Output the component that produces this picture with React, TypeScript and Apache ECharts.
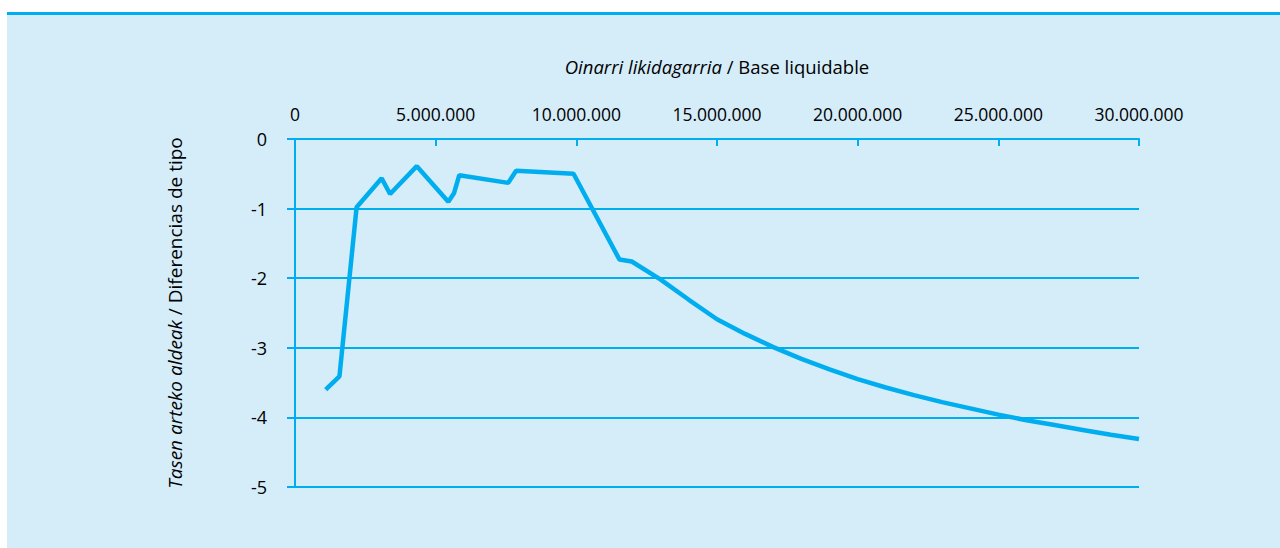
import React, { useEffect, useRef } from "react";
import * as echarts from "echarts";

const baseLiquidable = [
  1090000, 1580000, 2190000, 3080000, 3380000, 4330000, 5450000, 5650000, 5840000,
  7580000, 7860000, 9900000, 11530000, 11970000, 13000000, 14000000, 15000000,
  16000000, 17000000, 18000000, 19000000, 20000000, 21000000, 22000000, 23000000,
  24000000, 25000000, 26000000, 27000000, 28000000, 29000000, 30000000,
];
const diferencias = [
  -3.6, -3.41, -0.98, -0.565, -0.79, -0.39, -0.9, -0.78, -0.52,
  -0.63, -0.455, -0.5, -1.73, -1.76, -2.02, -2.31, -2.59,
  -2.8, -2.99, -3.16, -3.31, -3.45, -3.57, -3.68, -3.78,
  -3.87, -3.96, -4.04, -4.11, -4.18, -4.25, -4.31,
];
const xTicks = { min: 0, max: 30000000, interval: 5000000 };
const yTicks = { min: -5, max: 0, interval: 1 };
const xTitleItalic = "Oinarri likidagarria";
const xTitleRest = " / Base liquidable";
const yTitleItalic = "Tasen arteko aldeak";
const yTitleRest = " / Diferencias de tipo";

const BLUE = "#00aeef";
const BG = "#d5ecf9";
const FONT = "'Open Sans', 'Noto Sans', sans-serif";
const TXT = "#000000";

const fmt = (v: number) => String(v).replace(/\B(?=(\d{3})+(?!\d))/g, ".");

export default function App() {
  const ref = useRef<HTMLDivElement>(null);
  useEffect(() => {
    if (!ref.current) return;
    const chart = echarts.init(ref.current, null, { renderer: "svg" });
    const data = baseLiquidable.map((x, i) => [x, diferencias[i]]);
    chart.setOption({
      animation: false,
      textStyle: { fontFamily: FONT },
      graphic: [
        { type: "rect", z: -10, silent: true, shape: { x: 7, y: 14, width: 1273, height: 534 }, style: { fill: BG } },
        { type: "rect", z: -9, silent: true, shape: { x: 7, y: 12, width: 1273, height: 3 }, style: { fill: BLUE } },
      ],
      grid: { left: 295, right: 141, top: 139, bottom: 61, containLabel: false },
      xAxis: {
        type: "value",
        position: "top",
        ...xTicks,
        name: `{i|${xTitleItalic}}{n|${xTitleRest}}`,
        nameLocation: "middle",
        nameGap: 63,
        nameTextStyle: {
          rich: {
            i: { fontFamily: FONT, fontStyle: "italic", fontSize: 18.5, color: TXT },
            n: { fontFamily: FONT, fontSize: 18.5, color: TXT },
          },
        },
        axisLine: { show: true, lineStyle: { color: BLUE, width: 2 } },
        axisTick: { show: true, inside: true, length: 7, lineStyle: { color: BLUE, width: 2 } },
        splitLine: { show: false },
        axisLabel: { formatter: fmt, fontSize: 17.5, color: TXT, margin: 16, fontFamily: FONT },
      },
      yAxis: {
        type: "value",
        ...yTicks,
        name: `{i|${yTitleItalic}}{n|${yTitleRest}}`,
        nameLocation: "middle",
        nameRotate: 90,
        nameGap: 111,
        nameTextStyle: {
          rich: {
            i: { fontFamily: FONT, fontStyle: "italic", fontSize: 19, color: TXT },
            n: { fontFamily: FONT, fontSize: 19, color: TXT },
          },
        },
        axisLine: { show: true, lineStyle: { color: BLUE, width: 2 } },
        axisTick: { show: true, inside: false, length: 8, lineStyle: { color: BLUE, width: 2 } },
        splitLine: { show: true, lineStyle: { color: BLUE, width: 2 } },
        axisLabel: { fontSize: 18, color: TXT, margin: 28, fontFamily: FONT },
      },
      series: [
        {
          type: "line",
          data,
          showSymbol: false,
          symbol: "none",
          lineStyle: { color: BLUE, width: 4.5 },
          z: 5,
        },
      ],
    });
    return () => chart.dispose();
  }, []);
  return (
    <div
      ref={ref}
      style={{ position: "fixed", left: 0, top: 0, width: 1280, height: 548, background: "#ffffff" }}
    />
  );
}
